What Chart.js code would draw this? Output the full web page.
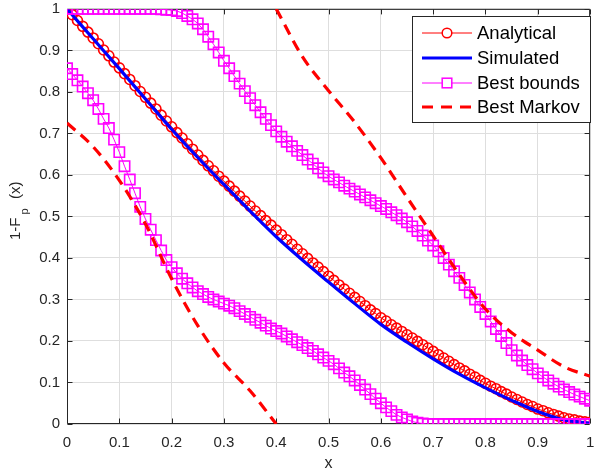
<!DOCTYPE html>
<html>
<head>
<meta charset="utf-8">
<script src="https://cdn.jsdelivr.net/npm/chart.js@4/dist/chart.umd.min.js"></script>
<style>
  html, body { margin: 0; padding: 0; background: #fff; }
  canvas { display: block; }
</style>
</head>
<body>
<canvas id="chart" width="599" height="476"></canvas>
<script>
// sample grid for the marker series (0 .. 1, step 0.01)
const xFine = [
  0.00, 0.01, 0.02, 0.03, 0.04, 0.05, 0.06, 0.07, 0.08, 0.09,
  0.10, 0.11, 0.12, 0.13, 0.14, 0.15, 0.16, 0.17, 0.18, 0.19,
  0.20, 0.21, 0.22, 0.23, 0.24, 0.25, 0.26, 0.27, 0.28, 0.29,
  0.30, 0.31, 0.32, 0.33, 0.34, 0.35, 0.36, 0.37, 0.38, 0.39,
  0.40, 0.41, 0.42, 0.43, 0.44, 0.45, 0.46, 0.47, 0.48, 0.49,
  0.50, 0.51, 0.52, 0.53, 0.54, 0.55, 0.56, 0.57, 0.58, 0.59,
  0.60, 0.61, 0.62, 0.63, 0.64, 0.65, 0.66, 0.67, 0.68, 0.69,
  0.70, 0.71, 0.72, 0.73, 0.74, 0.75, 0.76, 0.77, 0.78, 0.79,
  0.80, 0.81, 0.82, 0.83, 0.84, 0.85, 0.86, 0.87, 0.88, 0.89,
  0.90, 0.91, 0.92, 0.93, 0.94, 0.95, 0.96, 0.97, 0.98, 0.99,
  1.00
];

const analytical = [
  1.000, 0.986, 0.972, 0.958, 0.944, 0.930, 0.916, 0.901, 0.887, 0.872,
  0.858, 0.844, 0.830, 0.815, 0.801, 0.787, 0.773, 0.759, 0.744, 0.730,
  0.716, 0.702, 0.689, 0.675, 0.662, 0.648, 0.635, 0.622, 0.610, 0.597,
  0.585, 0.573, 0.561, 0.549, 0.537, 0.525, 0.513, 0.502, 0.490, 0.479,
  0.467, 0.456, 0.444, 0.433, 0.421, 0.410, 0.399, 0.388, 0.378, 0.367,
  0.356, 0.346, 0.335, 0.325, 0.315, 0.305, 0.295, 0.285, 0.275, 0.266,
  0.256, 0.248, 0.239, 0.231, 0.223, 0.215, 0.207, 0.199, 0.191, 0.183,
  0.175, 0.167, 0.159, 0.151, 0.143, 0.135, 0.128, 0.120, 0.113, 0.105,
  0.098, 0.091, 0.085, 0.078, 0.072, 0.065, 0.059, 0.053, 0.047, 0.042,
  0.036, 0.032, 0.027, 0.023, 0.019, 0.015, 0.012, 0.010, 0.007, 0.005,
  0.004
];

const xCoarse = [0, 0.05, 0.1, 0.15, 0.2, 0.25, 0.3, 0.35, 0.4, 0.45, 0.5,
  0.55, 0.6, 0.65, 0.7, 0.75, 0.8, 0.85, 0.9, 0.95, 1];
const simulated = [1.000, 0.928, 0.856, 0.783, 0.710, 0.642, 0.577, 0.513, 0.451, 0.395, 0.342,
  0.290, 0.240, 0.197, 0.157, 0.120, 0.087, 0.057, 0.030, 0.010, 0.002];

const boundUpper = [
  1, 1, 1, 1, 1, 1, 1, 1, 1, 1,
  1, 1, 1, 1, 1, 1, 1, 1, 0.999, 0.998,
  0.997, 0.995, 0.990, 0.983, 0.975, 0.965, 0.951, 0.933, 0.915, 0.895,
  0.875, 0.857, 0.838, 0.820, 0.802, 0.785, 0.768, 0.751, 0.735, 0.720,
  0.705, 0.692, 0.680, 0.669, 0.658, 0.648, 0.637, 0.627, 0.616, 0.606,
  0.597, 0.589, 0.582, 0.574, 0.567, 0.560, 0.553, 0.546, 0.539, 0.532,
  0.525, 0.518, 0.510, 0.503, 0.495, 0.486, 0.476, 0.465, 0.454, 0.442,
  0.430, 0.416, 0.400, 0.384, 0.368, 0.352, 0.335, 0.317, 0.300, 0.282,
  0.265, 0.247, 0.229, 0.212, 0.195, 0.178, 0.165, 0.153, 0.142, 0.132,
  0.122, 0.113, 0.105, 0.097, 0.090, 0.083, 0.077, 0.071, 0.066, 0.061,
  0.056
];

const boundLower = [
  0.857, 0.843, 0.828, 0.813, 0.797, 0.780, 0.759, 0.735, 0.713, 0.685,
  0.655, 0.621, 0.589, 0.556, 0.523, 0.494, 0.468, 0.443, 0.418, 0.395,
  0.378, 0.363, 0.350, 0.339, 0.329, 0.320, 0.313, 0.306, 0.300, 0.295,
  0.290, 0.285, 0.279, 0.272, 0.265, 0.258, 0.251, 0.244, 0.237, 0.230,
  0.224, 0.218, 0.211, 0.204, 0.197, 0.190, 0.183, 0.176, 0.168, 0.160,
  0.152, 0.144, 0.134, 0.124, 0.115, 0.105, 0.094, 0.083, 0.072, 0.061,
  0.050, 0.040, 0.031, 0.022, 0.016, 0.011, 0.006, 0.003, 0.001, 0,
  0, 0, 0, 0, 0, 0, 0, 0, 0, 0,
  0, 0, 0, 0, 0, 0, 0, 0, 0, 0,
  0, 0, 0, 0, 0, 0, 0, 0, 0, 0,
  0
];

const markovLowX = [0, 0.05, 0.1, 0.15, 0.2, 0.25, 0.3, 0.35, 0.4];
const markovLow = [0.725, 0.668, 0.587, 0.482, 0.350, 0.237, 0.147, 0.080, 0];
const markovHighX = [0.4, 0.45, 0.5, 0.55, 0.6, 0.65, 0.7, 0.75, 0.8, 0.85, 0.9, 0.95, 1];
const markovHigh = [1, 0.885, 0.803, 0.727, 0.641, 0.546, 0.453, 0.360, 0.277, 0.220, 0.178, 0.138, 0.115];

const xTickLabels = ['0', '0.1', '0.2', '0.3', '0.4', '0.5', '0.6', '0.7', '0.8', '0.9', '1'];
const yTickLabels = ['0', '0.1', '0.2', '0.3', '0.4', '0.5', '0.6', '0.7', '0.8', '0.9', '1'];

const FONT = '"Liberation Sans", Arial, Helvetica, sans-serif';
const AXIS = '#262626';
const RED = '#ff0000', BLUE = '#0000ff', MAGENTA = '#ff00ff';

const pts = (xs, ys) => xs.map((x, i) => ({ x, y: ys[i] }));

// entries for the hand-drawn legend (matlab style: line with marker in the middle)
const legendItems = [
  { label: 'Analytical', color: RED, width: 1, marker: 'circle' },
  { label: 'Simulated', color: BLUE, width: 3 },
  { label: 'Best bounds', color: MAGENTA, width: 1, marker: 'rect' },
  { label: 'Best Markov', color: RED, width: 3, dash: [11, 8] }
];

const frame = {
  id: 'frame',
  beforeDraw(chart) {
    const { ctx } = chart;
    ctx.save();
    ctx.fillStyle = '#fff';
    ctx.fillRect(0, 0, chart.width, chart.height);
    ctx.restore();
  },
  beforeDatasetsDraw(chart) {
    const { ctx, chartArea: a, scales } = chart;
    const L = a.left + 0.5, R = a.right - 0.5, T = a.top + 0.5, B = a.bottom - 0.5;
    ctx.save();
    ctx.strokeStyle = AXIS;
    ctx.lineWidth = 1;
    ctx.beginPath();
    ctx.moveTo(L, T); ctx.lineTo(R, T); ctx.lineTo(R, B); ctx.lineTo(L, B); ctx.closePath();
    // inward tick marks on all four sides
    const len = 5;
    scales.x.ticks.forEach(t => {
      const px = Math.round(scales.x.getPixelForValue(t.value)) + 0.5;
      ctx.moveTo(px, B); ctx.lineTo(px, B - len);
      ctx.moveTo(px, T); ctx.lineTo(px, T + len);
    });
    scales.y.ticks.forEach(t => {
      const py = Math.round(scales.y.getPixelForValue(t.value)) + 0.5;
      ctx.moveTo(L, py); ctx.lineTo(L + len, py);
      ctx.moveTo(R, py); ctx.lineTo(R - len, py);
    });
    ctx.stroke();
    ctx.restore();
  },
  afterDraw(chart) {
    const { ctx, chartArea: a } = chart;
    ctx.save();
    ctx.fillStyle = AXIS;

    // x label
    ctx.font = '16px ' + FONT;
    ctx.textAlign = 'center';
    ctx.textBaseline = 'alphabetic';
    ctx.fillText('x', (a.left + a.right) / 2, 468);

    // y label 1-F_p(x), rotated
    ctx.save();
    ctx.translate(20, 240);
    ctx.rotate(-Math.PI / 2);
    ctx.textAlign = 'left';
    ctx.font = '15px ' + FONT;
    ctx.fillText('1-F', 0, 0);
    const w = ctx.measureText('1-F').width;
    ctx.font = '11px ' + FONT;
    ctx.fillText('p', w + 3, 8);
    ctx.font = '15px ' + FONT;
    ctx.fillText('(x)', 41, 0);
    ctx.restore();

    // legend
    const box = { x: 412.5, y: 16.5, w: 178, h: 106 };
    ctx.fillStyle = '#fff';
    ctx.fillRect(box.x, box.y, box.w, box.h);
    ctx.strokeStyle = AXIS;
    ctx.lineWidth = 1;
    ctx.strokeRect(box.x, box.y, box.w, box.h);
    const x0 = 422, x1 = 472, rowY = [33, 58, 83, 107];
    legendItems.forEach((it, i) => {
      const y = rowY[i];
      ctx.strokeStyle = it.color;
      ctx.lineWidth = it.width;
      ctx.setLineDash(it.dash || []);
      ctx.beginPath();
      ctx.moveTo(x0, y); ctx.lineTo(x1, y);
      ctx.stroke();
      ctx.setLineDash([]);
      const cx = (x0 + x1) / 2;
      ctx.lineWidth = 1.5;
      if (it.marker === 'circle') {
        ctx.fillStyle = '#fff';
        ctx.beginPath();
        ctx.arc(cx, y, 4.8, 0, Math.PI * 2);
        ctx.fill();
        ctx.stroke();
      } else if (it.marker === 'rect') {
        ctx.fillStyle = '#fff';
        ctx.fillRect(cx - 4.8, y - 4.8, 9.6, 9.6);
        ctx.strokeRect(cx - 4.8, y - 4.8, 9.6, 9.6);
      }
      ctx.fillStyle = '#000';
      ctx.font = '18.5px ' + FONT;
      ctx.textAlign = 'left';
      ctx.textBaseline = 'middle';
      ctx.fillText(it.label, 477, y + 1);
    });
    ctx.restore();
  }
};

const markerSeries = {
  borderWidth: 1,
  pointBorderWidth: 1.6,
  pointBackgroundColor: 'rgba(0,0,0,0)',
  tension: 0
};

new Chart(document.getElementById('chart'), {
  type: 'line',
  data: {
    datasets: [
      {
        ...markerSeries,
        label: 'Analytical',
        data: pts(xFine, analytical),
        borderColor: RED,
        pointBorderColor: RED,
        pointStyle: 'circle',
        pointRadius: 5,
        order: 5
      },
      {
        label: 'Simulated',
        data: pts(xCoarse, simulated),
        borderColor: BLUE,
        borderWidth: 3.2,
        pointRadius: 0,
        cubicInterpolationMode: 'monotone',
        order: 4
      },
      {
        ...markerSeries,
        label: 'Best bounds',
        data: pts(xFine, boundUpper),
        borderColor: MAGENTA,
        pointBorderColor: MAGENTA,
        pointStyle: 'rect',
        pointRadius: 7.3,
        order: 3
      },
      {
        ...markerSeries,
        label: 'Best bounds (lower)',
        data: pts(xFine, boundLower),
        borderColor: MAGENTA,
        pointBorderColor: MAGENTA,
        pointStyle: 'rect',
        pointRadius: 7.3,
        order: 2
      },
      {
        label: 'Best Markov',
        data: pts(markovLowX, markovLow),
        borderColor: RED,
        borderWidth: 3.2,
        borderDash: [11, 7],
        pointRadius: 0,
        cubicInterpolationMode: 'monotone',
        order: 1
      },
      {
        label: 'Best Markov (upper)',
        data: pts(markovHighX, markovHigh),
        borderColor: RED,
        borderWidth: 3.2,
        borderDash: [11, 7],
        pointRadius: 0,
        cubicInterpolationMode: 'monotone',
        order: 1
      }
    ]
  },
  options: {
    responsive: false,
    animation: false,
    devicePixelRatio: 1,
    events: [],
    layout: { padding: { top: 4, right: 1, left: 0, bottom: 0 } },
    plugins: { legend: { display: false }, tooltip: { enabled: false } },
    scales: {
      x: {
        type: 'linear',
        min: 0,
        max: 1,
        afterFit(s) { s.height = 52; s.paddingLeft = 0; s.paddingRight = 0; },
        grid: { color: '#dedede', drawTicks: false },
        border: { display: false },
        ticks: {
          stepSize: 0.1,
          padding: 10,
          color: AXIS,
          font: { family: FONT, size: 15 },
          maxRotation: 0,
          autoSkip: false,
          callback: (v, i) => xTickLabels[i]
        }
      },
      y: {
        type: 'linear',
        min: 0,
        max: 1,
        afterFit(s) { s.width = 67; s.paddingTop = 0; s.paddingBottom = 0; },
        grid: { color: '#dedede', drawTicks: false },
        border: { display: false },
        ticks: {
          stepSize: 0.1,
          padding: 7,
          color: AXIS,
          font: { family: FONT, size: 15 },
          autoSkip: false,
          callback: (v, i) => yTickLabels[i]
        }
      }
    }
  },
  plugins: [frame]
});
</script>
</body>
</html>
